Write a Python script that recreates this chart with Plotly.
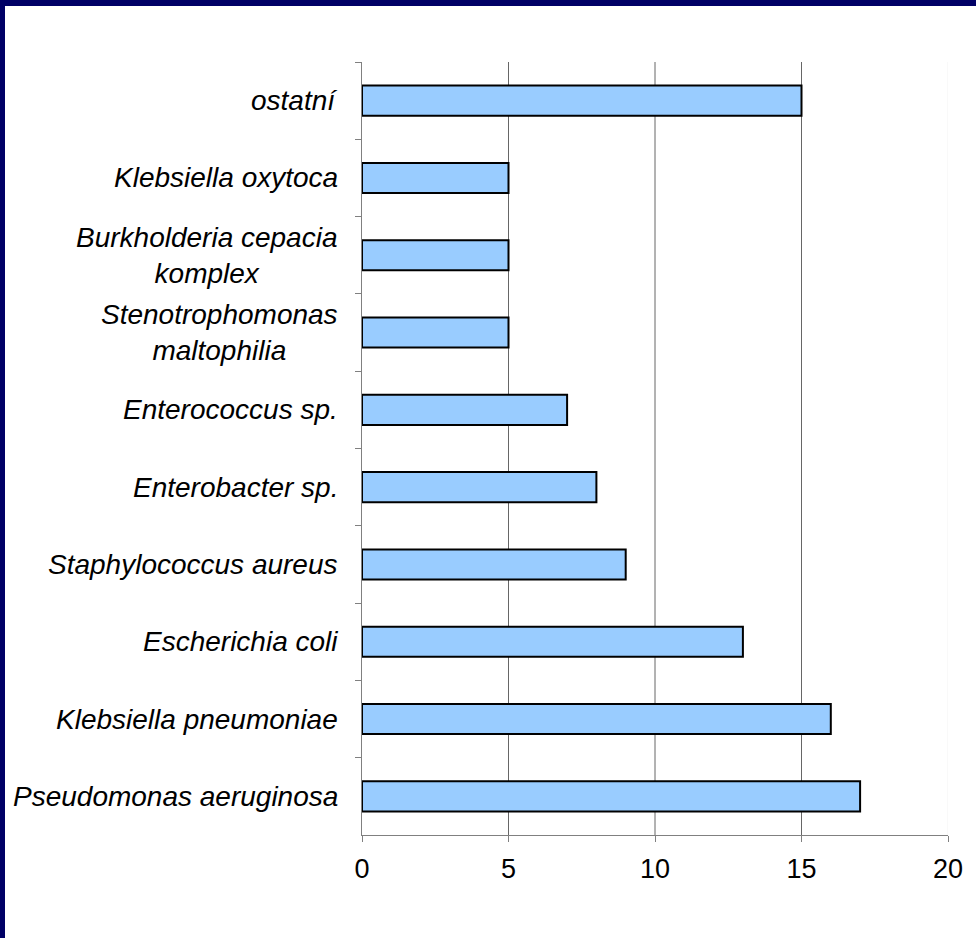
import plotly.graph_objects as go

categories = [
    "ostatní",
    "Klebsiella oxytoca",
    "Burkholderia cepacia<br>komplex",
    "Stenotrophomonas<br>maltophilia",
    "Enterococcus sp.",
    "Enterobacter sp.",
    "Staphylococcus aureus",
    "Escherichia coli",
    "Klebsiella pneumoniae",
    "Pseudomonas aeruginosa",
]
values = [15, 5, 5, 5, 7, 8, 9, 13, 16, 17]
x_ticks = [0, 5, 10, 15, 20]

W, H = 976, 938
L, R, T, B = 362, 28, 62, 103
pw, ph = W - L - R, H - T - B

FONT = "Liberation Sans, Arial, sans-serif"

fig = go.Figure()
fig.add_trace(go.Bar(
    x=values, y=categories, orientation="h",
    marker=dict(color="#99CCFF", line=dict(color="black", width=2)),
    hoverinfo="skip",
))

shapes = []
for v in x_ticks[1:]:
    shapes.append(dict(type="line", xref="x", yref="paper", x0=v, x1=v, y0=0, y1=1,
                       line=dict(color="#f2f2f2" if v == x_ticks[-1] else "#666666", width=1),
                       layer="below"))
# navy frame (top and left)
shapes.append(dict(type="rect", xref="paper", yref="paper",
                   x0=-L / pw, x1=(5 - L) / pw, y0=-B / ph, y1=1 + T / ph,
                   fillcolor="#000066", line=dict(width=0)))
shapes.append(dict(type="rect", xref="paper", yref="paper",
                   x0=-L / pw, x1=1 + R / pw, y0=1 + (T - 6) / ph, y1=1 + T / ph,
                   fillcolor="#000066", line=dict(width=0)))

annotations = []
for c in categories:
    annotations.append(dict(
        xref="paper", yref="y", x=-(362 - 338) / pw, y=c,
        text=c, showarrow=False, xanchor="right", yanchor="middle", align="center",
        borderpad=0, borderwidth=0,
        font=dict(size=28, family=FONT, color="black", style="italic"),
    ))

fig.update_layout(
    width=W, height=H,
    margin=dict(l=L, r=R, t=T, b=B, pad=0),
    paper_bgcolor="white", plot_bgcolor="white",
    bargap=0.61,
    showlegend=False,
    shapes=shapes,
    annotations=annotations,
    font=dict(family=FONT, color="black"),
    xaxis=dict(
        range=[0, 20], tickvals=x_ticks, showgrid=False, zeroline=False,
        showline=True, linecolor="#808080", linewidth=1,
        ticks="outside", ticklen=6, tickcolor="#808080",
        tickfont=dict(size=27, family=FONT, color="black"),
        ticklabelstandoff=4,
    ),
    yaxis=dict(
        autorange="reversed", type="category", tickson="boundaries",
        showgrid=False, zeroline=False, showticklabels=False,
        showline=True, linecolor="#808080", linewidth=1,
        ticks="outside", ticklen=6, tickcolor="#808080",
    ),
)

fig.write_html("out.html")
